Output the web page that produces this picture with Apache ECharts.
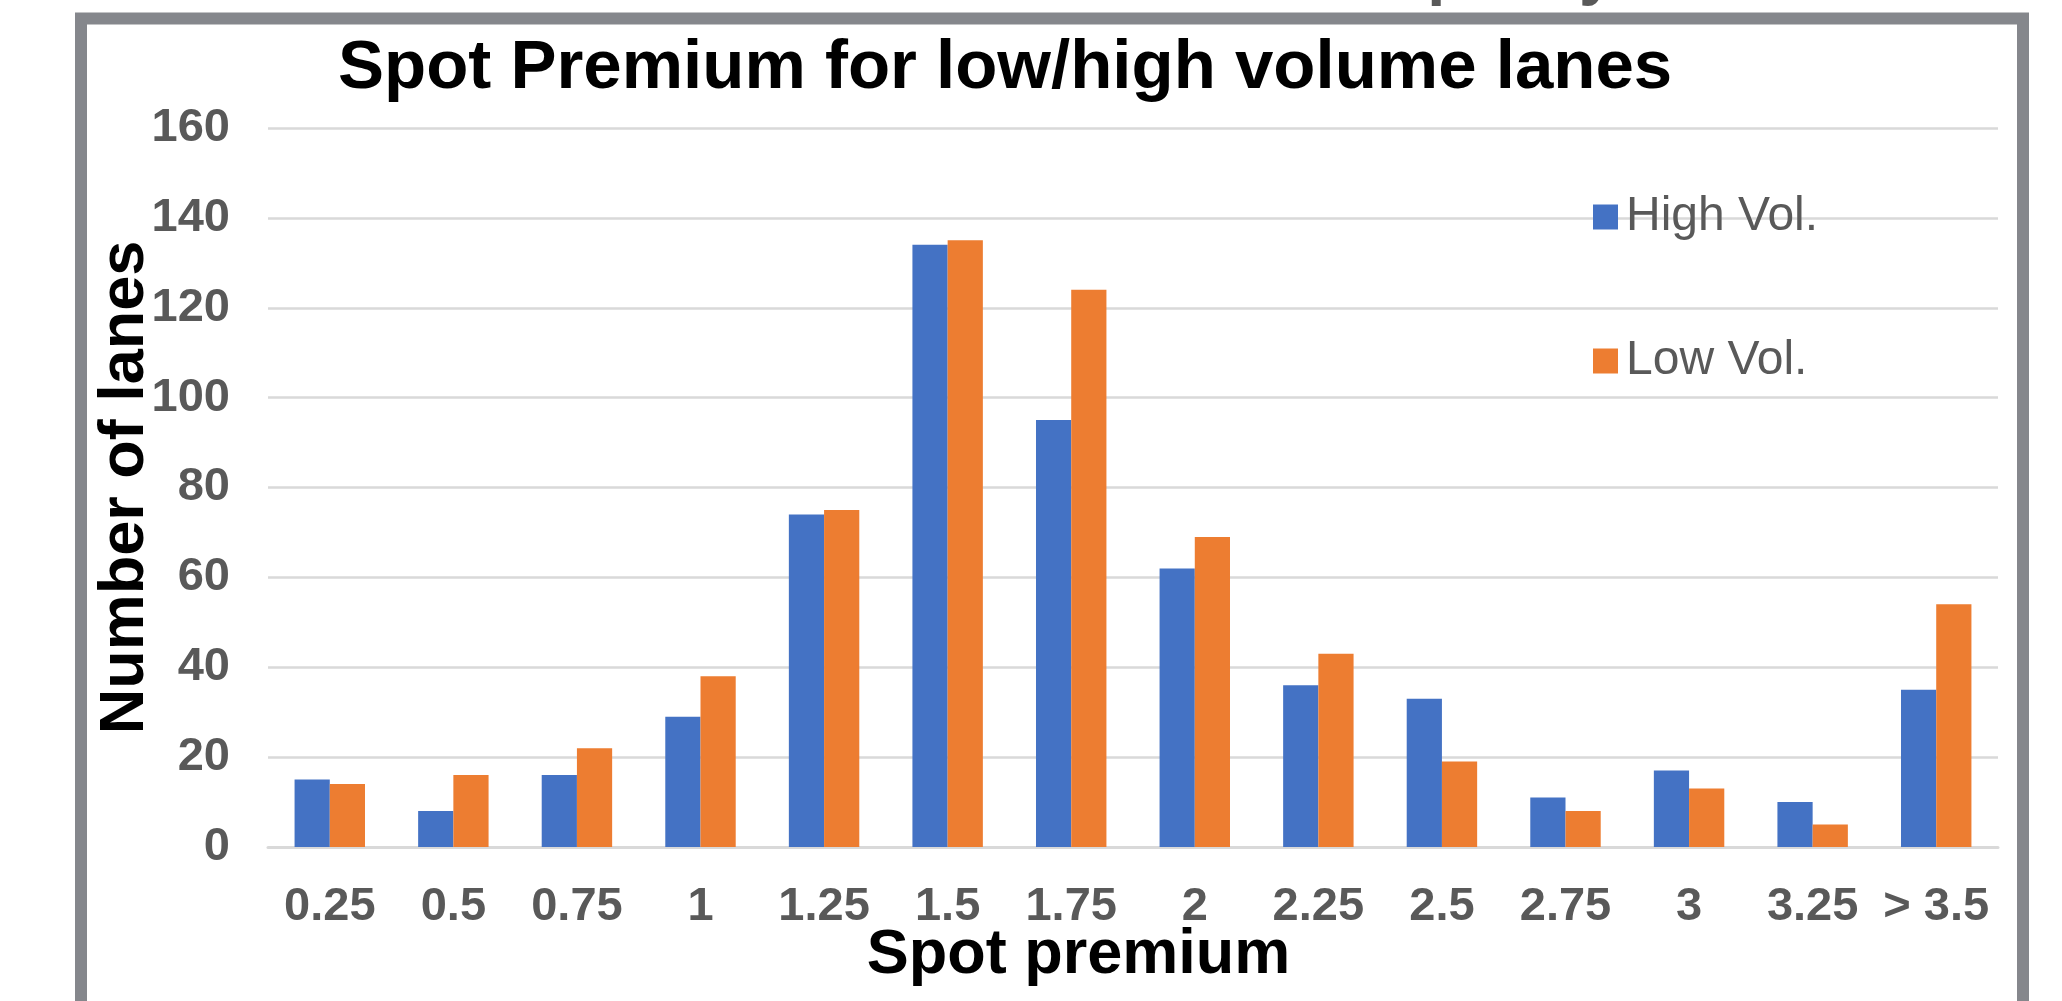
<!DOCTYPE html>
<html>
<head>
<meta charset="utf-8">
<script src="https://cdn.jsdelivr.net/npm/echarts@6/dist/echarts.min.js"></script>
<style>
html,body{margin:0;padding:0;background:#fff;}
#chart{width:2062px;height:1001px;}
</style>
</head>
<body>
<div id="chart"></div>
<script>
const categories = ['0.25','0.5','0.75','1','1.25','1.5','1.75','2','2.25','2.5','2.75','3','3.25','> 3.5'];
const highVol = [15, 8, 16, 29, 74, 134, 95, 62, 36, 33, 11, 17, 10, 35];
const lowVol  = [14, 16, 22, 38, 75, 135, 124, 69, 43, 19, 8, 13, 5, 54];
const seriesNames = ['High Vol.', 'Low Vol.'];
const yTicks = [0, 20, 40, 60, 80, 100, 120, 140, 160];

const FONT = "'Liberation Sans', Arial, Helvetica, sans-serif";
const chart = echarts.init(document.getElementById('chart'), null, {renderer: 'canvas'});
chart.setOption({
  backgroundColor: '#ffffff',
  animation: false,
  title: {
    text: 'Spot Premium for low/high volume lanes',
    left: 333,
    top: 29,
    textStyle: {fontFamily: FONT, fontSize: 69, fontWeight: 'bold', color: '#000000'}
  },
  legend: {
    orient: 'vertical',
    left: 1588,
    top: 188,
    icon: 'rect',
    itemWidth: 25,
    itemHeight: 25,
    itemGap: 96,
    data: seriesNames,
    textStyle: {fontFamily: FONT, fontSize: 48, color: '#595959', padding: [0, 0, 0, 3]}
  },
  grid: {
    left: 268, right: 64, top: 128, bottom: 154,
    containLabel: false,
    outerBoundsMode: 'none'
  },
  xAxis: {
    type: 'category',
    data: categories,
    name: 'Spot premium',
    nameLocation: 'middle',
    nameGap: 77,
    nameMoveOverlap: false,
    nameTextStyle: {fontFamily: FONT, fontSize: 63, fontWeight: 'bold', color: '#000000', padding: [0, 109, 0, 0]},
    axisTick: {show: false},
    axisLine: {lineStyle: {color: '#d9d9d9', width: 3}},
    axisLabel: {interval: 0, margin: 37, fontFamily: FONT, fontSize: 47, fontWeight: 'bold', color: '#595959'}
  },
  yAxis: {
    type: 'value',
    min: yTicks[0],
    max: yTicks[yTicks.length - 1],
    interval: 20,
    name: 'Number of lanes',
    nameLocation: 'middle',
    nameRotate: 90,
    nameGap: 111,
    nameMoveOverlap: false,
    nameTextStyle: {fontFamily: FONT, fontSize: 63, fontWeight: 'bold', color: '#000000'},
    axisLine: {show: false},
    axisTick: {show: false},
    axisLabel: {margin: 38, fontFamily: FONT, fontSize: 47, fontWeight: 'bold', color: '#595959'},
    splitLine: {lineStyle: {color: '#d9d9d9', width: 2.5}}
  },
  series: [
    {
      name: seriesNames[0], type: 'bar', data: highVol,
      barGap: '0%', barCategoryGap: '43%',
      itemStyle: {color: '#4472C4'}
    },
    {
      name: seriesNames[1], type: 'bar', data: lowVol,
      barGap: '0%', barCategoryGap: '43%',
      itemStyle: {color: '#ED7D31'}
    }
  ],
  graphic: [
    {
      type: 'rect',
      silent: true,
      z: 100,
      shape: {x: 81, y: 18.5, width: 1942, height: 1100},
      style: {fill: 'none', stroke: '#85878c', lineWidth: 12}
    },
    {
      type: 'text',
      silent: true,
      x: 1355,
      y: 8,
      style: {text: 'capacity', fontFamily: FONT, fontSize: 65, fontWeight: 'bold', fill: '#595959', verticalAlign: 'bottom', align: 'left'}
    }
  ]
});
</script>
</body>
</html>
